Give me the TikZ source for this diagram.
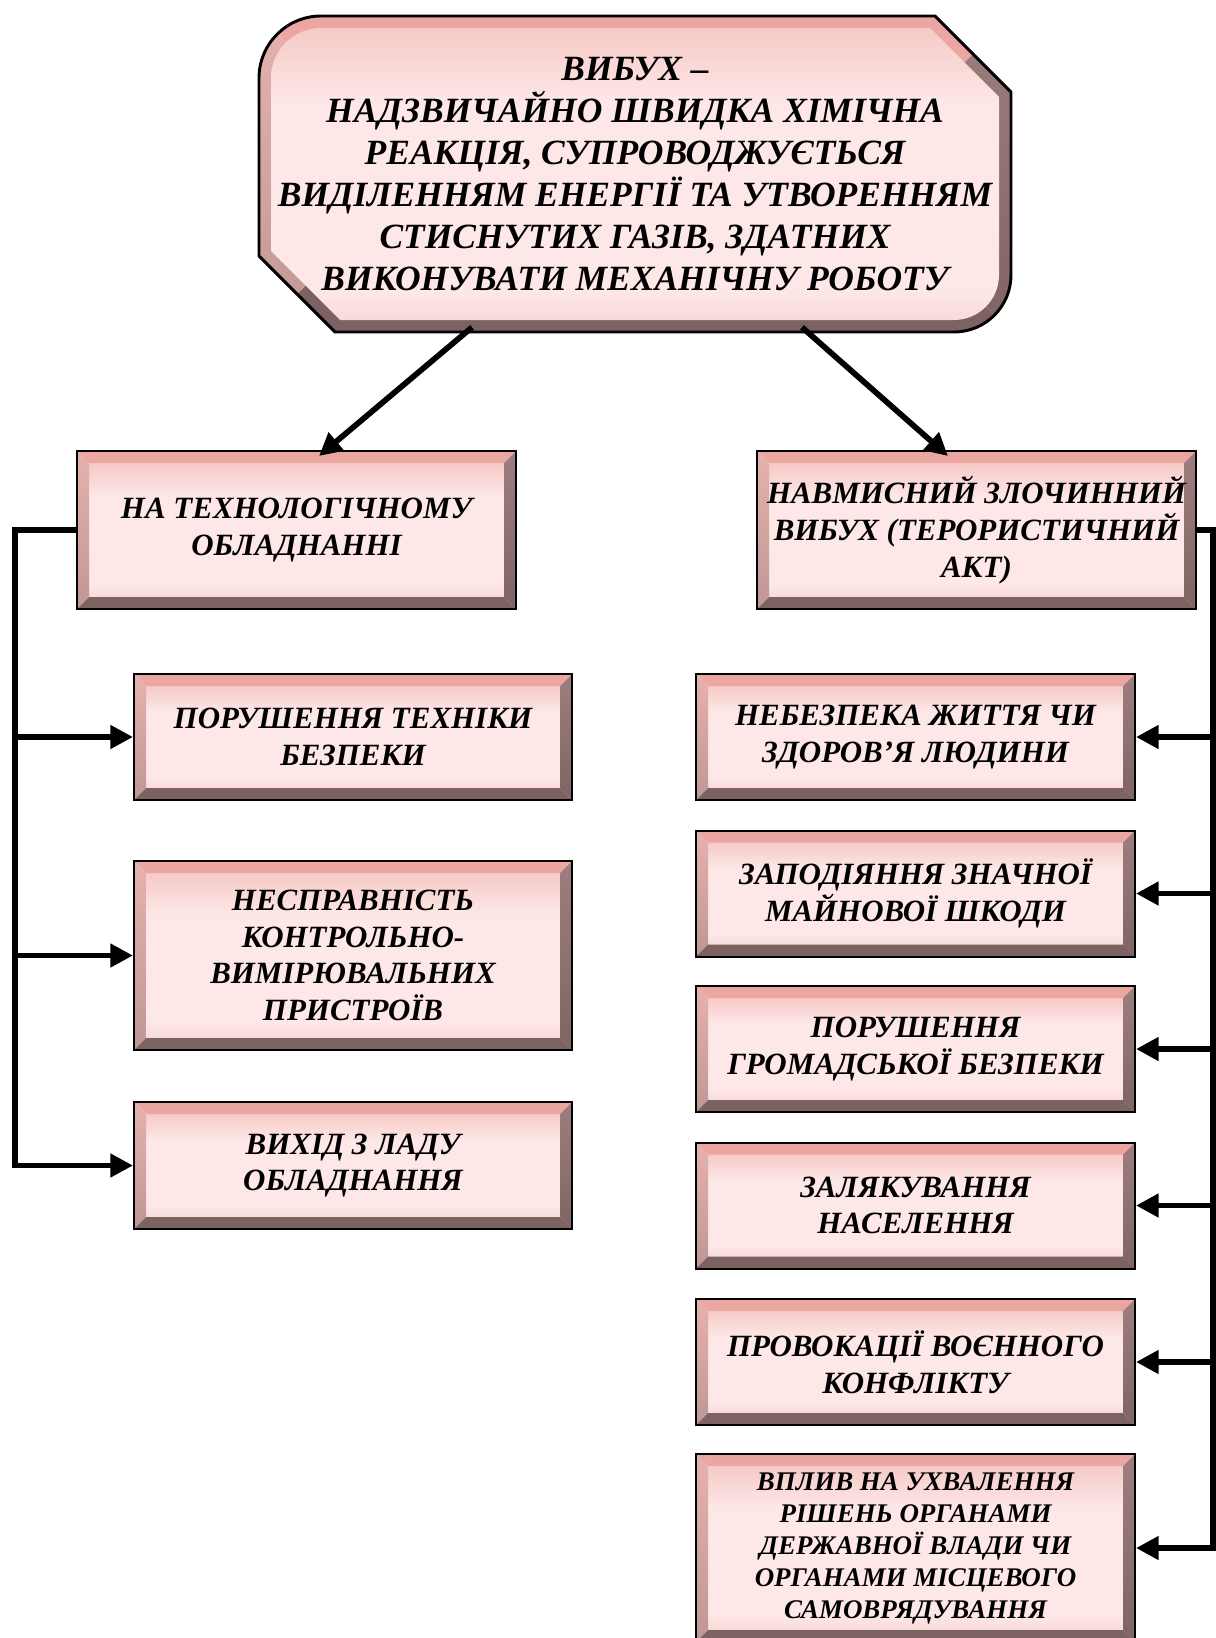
\documentclass[tikz,border=0pt]{standalone}
\usepackage{fontspec}
\setmainfont{Liberation Serif}
\usetikzlibrary{arrows.meta,calc}
\definecolor{pkTop}{HTML}{EDA7A2}
\definecolor{pkMid}{HTML}{FDE8E7}
\definecolor{pkBot}{HTML}{E8ACA8}
\definecolor{bvTop}{HTML}{EBA6A1}
\definecolor{bvLa}{HTML}{E6B2AE}
\definecolor{bvLb}{HTML}{D4C1C0}
\definecolor{bvLc}{HTML}{BF9795}
\definecolor{bvRa}{HTML}{9E7E7E}
\definecolor{bvRb}{HTML}{988A8A}
\definecolor{bvRc}{HTML}{7F6464}
\definecolor{bvBot}{HTML}{7D6262}
\pgfdeclareverticalshading{boxsh}{100bp}{color(0bp)=(pkBot); color(8bp)=(pkBot); color(30bp)=(pkMid); color(62bp)=(pkMid); color(90bp)=(pkTop); color(100bp)=(pkTop)}
\newcommand\topfont{\fontsize{26.6}{31.5}\selectfont\bfseries\itshape}
\newcommand\bxfont{\fontsize{23.2}{27.5}\selectfont\bfseries\itshape}
\newcommand\smfont{\fontsize{20.2}{24}\selectfont\bfseries\itshape}
\newcommand\bevelpic{%
 \coordinate (pA) at (path picture bounding box.north west);
 \coordinate (pB) at (path picture bounding box.north east);
 \coordinate (pC) at (path picture bounding box.south east);
 \coordinate (pD) at (path picture bounding box.south west);
 \coordinate (iA) at ($(pA)+(12,12)$);
 \coordinate (iB) at ($(pB)+(-12,12)$);
 \coordinate (iC) at ($(pC)+(-12,-12)$);
 \coordinate (iD) at ($(pD)+(12,-12)$);
 \shade[shading=boxsh] (iA) rectangle (iC);
 \fill[bvTop] (pA) -- (pB) -- (iB) -- (iA) -- cycle;
 \shade[top color=bvLa, middle color=bvLb, bottom color=bvLc] (pA) -- (iA) -- (iD) -- (pD) -- cycle;
 \shade[top color=bvRa, middle color=bvRb, bottom color=bvRc] (pB) -- (iB) -- (iC) -- (pC) -- cycle;
 \fill[bvBot] (pD) -- (iD) -- (iC) -- (pC) -- cycle;
}
\begin{document}
\begin{tikzpicture}[x=0.75pt, y=-0.75pt,
  bx/.style={rectangle, draw=black, line width=1.5pt, inner sep=0pt, align=center, font=\bxfont, path picture={\bevelpic}},
  sz/.style 2 args={minimum width=#1*0.75pt, minimum height=#2*0.75pt},
  ln/.style={line width=4.3pt, line join=miter},
  arr/.style={ln, -{Triangle[length=17pt, width=17pt]}}]
\useasboundingbox (0,0) rectangle (1216,1638);
\fill[white] (0,0) rectangle (1216,1638);

% top box
\begin{scope}
 \clip (259,256) -- (259,78) .. controls (259,43.8) and (286.8,16) .. (321,16) -- (935,16) -- (1011,92) -- (1011,275) .. controls (1011,306.5) and (985.5,332) .. (954,332) -- (335,332) -- cycle;
 \fill[bvTop] (259,16) -- (1011,16) -- (853,174) -- (417,174) -- cycle;
 \fill[bvBot] (259,332) -- (1011,332) -- (853,174) -- (417,174) -- cycle;
 \shade[top color=bvLa, middle color=bvLb, bottom color=bvLc] (259,16) -- (417,174) -- (259,332) -- cycle;
 \shade[top color=bvRa, middle color=bvRb, bottom color=bvRc] (1011,16) -- (853,174) -- (1011,332) -- cycle;
 \shade[shading=boxsh] (271,251) -- (271,78) .. controls (271,50.4) and (293.4,28) .. (321,28) -- (930,28) -- (999,97) -- (999,275) .. controls (999,299.8) and (978.8,320) .. (954,320) -- (340,320) -- cycle;
\end{scope}
\draw[line width=2.2pt, line join=round] (259,256) -- (259,78) .. controls (259,43.8) and (286.8,16) .. (321,16) -- (935,16) -- (1011,92) -- (1011,275) .. controls (1011,306.5) and (985.5,332) .. (954,332) -- (335,332) -- cycle;
\node[font=\topfont, align=center, inner sep=0pt, sz={752}{316}] (top) at (635,174)
 {ВИБУХ –\\НАДЗВИЧАЙНО ШВИДКА ХІМІЧНА\\РЕАКЦІЯ, СУПРОВОДЖУЄТЬСЯ\\ВИДІЛЕННЯМ ЕНЕРГІЇ ТА УТВОРЕННЯМ\\СТИСНУТИХ ГАЗІВ, ЗДАТНИХ\\ВИКОНУВАТИ МЕХАНІЧНУ РОБОТУ};

% second level
\node[bx, sz={439}{158}] (tech) at (296.5,530) {НА ТЕХНОЛОГІЧНОМУ\\ОБЛАДНАННІ};
\node[bx, sz={439}{158}] (terr) at (976.5,530) {НАВМИСНИЙ ЗЛОЧИННИЙ\\ВИБУХ (ТЕРОРИСТИЧНИЙ\\АКТ)};

% left column
\node[bx, sz={438}{126}] (l1) at (353,737) {ПОРУШЕННЯ ТЕХНІКИ\\БЕЗПЕКИ};
\node[bx, sz={438}{189}] (l2) at (353,955.5) {НЕСПРАВНІСТЬ\\КОНТРОЛЬНО-\\ВИМІРЮВАЛЬНИХ\\ПРИСТРОЇВ};
\node[bx, sz={438}{127}] (l3) at (353,1165.5) {ВИХІД З ЛАДУ\\ОБЛАДНАННЯ};

% right column
\node[bx, sz={439}{126}] (r1) at (915.5,737) {НЕБЕЗПЕКА ЖИТТЯ ЧИ\\ЗДОРОВ'Я ЛЮДИНИ};
\node[bx, sz={439}{126}] (r2) at (915.5,893.5) {ЗАПОДІЯННЯ ЗНАЧНОЇ\\МАЙНОВОЇ ШКОДИ};
\node[bx, sz={439}{126}] (r3) at (915.5,1049) {ПОРУШЕННЯ\\ГРОМАДСЬКОЇ БЕЗПЕКИ};
\node[bx, sz={439}{126}] (r4) at (915.5,1205.5) {ЗАЛЯКУВАННЯ\\НАСЕЛЕННЯ};
\node[bx, sz={439}{126}] (r5) at (915.5,1362) {ПРОВОКАЦІЇ ВОЄННОГО\\КОНФЛІКТУ};
\node[bx, sz={439}{188}, font=\smfont] (r6) at (915.5,1548) {ВПЛИВ НА УХВАЛЕННЯ\\РІШЕНЬ ОРГАНАМИ\\ДЕРЖАВНОЇ ВЛАДИ ЧИ\\ОРГАНАМИ МІСЦЕВОГО\\САМОВРЯДУВАННЯ};

% top arrows
\draw[arr] ([xshift=-122.25pt, yshift=3.75pt]top.south) -- ([xshift=16.9pt, yshift=-4.5pt]tech.north);
\draw[arr] ([xshift=125.25pt, yshift=3.75pt]top.south) -- ([xshift=-21.4pt, yshift=-4.5pt]terr.north);

% left bus
\coordinate (lt) at (15,530);
\draw[arr] (tech.west) -- (lt) |- (l3.west);
\draw[arr] (lt |- l1.west) -- (l1.west);
\draw[arr] (lt |- l2.west) -- (l2.west);

% right bus
\coordinate (rt) at (1213,530);
\draw[arr] (terr.east) -- (rt) |- (r6.east);
\draw[arr] (rt |- r1.east) -- (r1.east);
\draw[arr] (rt |- r2.east) -- (r2.east);
\draw[arr] (rt |- r3.east) -- (r3.east);
\draw[arr] (rt |- r4.east) -- (r4.east);
\draw[arr] (rt |- r5.east) -- (r5.east);
\end{tikzpicture}
\end{document}
